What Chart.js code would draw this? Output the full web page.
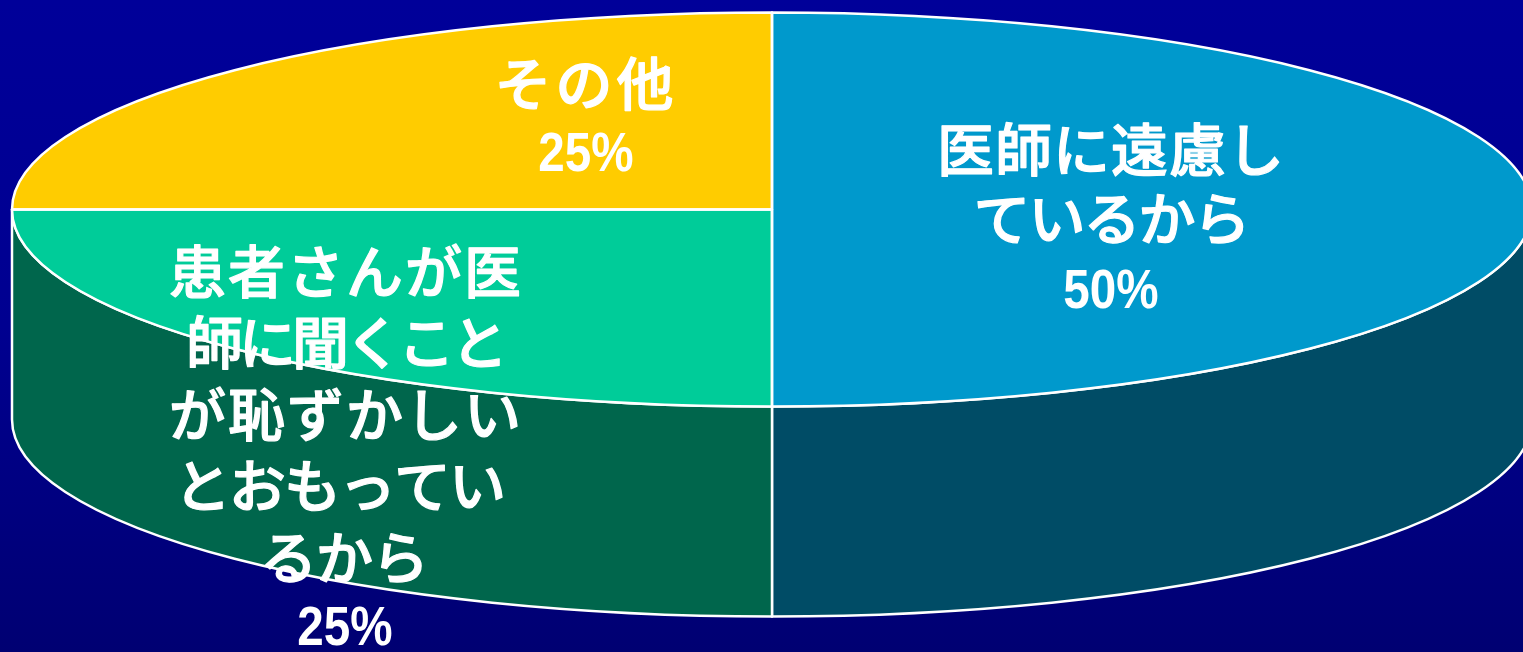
<!DOCTYPE html>
<html lang="ja">
<head>
<meta charset="utf-8">
<style>html,body{margin:0;padding:0;background:#000090;overflow:hidden}canvas{display:block}</style>
<script src="https://cdn.jsdelivr.net/npm/chart.js@4"></script>
</head>
<body>
<canvas id="c" width="1523" height="652"></canvas>
<script>
const categories = ['医師に遠慮しているから', '患者さんが医師に聞くことが恥ずかしいとおもっているから', 'その他'];
const categoryLines = [
  ['医師に遠慮し', 'ているから'],
  ['患者さんが医', '師に聞くこと', 'が恥ずかしい', 'とおもってい', 'るから'],
  ['その他']
];
const values = [50, 25, 25];
const topColors = ['#0099CC', '#00CC99', '#FFCC00'];
const sideColors = ['#004C66', '#00664C', '#806600'];

const CX = 772, CY = 209.5, RX = 760, RY = 197, DEPTH = 210;
const labelAnchors = [
  {x: 1111, y: 149, step: 69, pctGap: 74, spacing: [1, -2], nudge: [0, 0]},
  {x: 345, y: 271, step: 71.5, pctGap: 72, spacing: [2, -4, 2, -2, -1], nudge: [1, 0, 1, -6, -1]},
  {x: 586, y: 83, step: 70, pctGap: 72, spacing: [4], nudge: [0]}
];

function applyTransform(ctx, chart) {
  const a = chart.getDatasetMeta(0).data[0];
  ctx.translate(CX, CY);
  ctx.scale(RX / a.outerRadius, RY / a.outerRadius);
  ctx.translate(-a.x, -a.y);
}

const pie3d = {
  id: 'pie3d',
  beforeDraw(chart) {
    const {ctx, width, height} = chart;
    const g = ctx.createLinearGradient(0, 0, 0, height);
    g.addColorStop(0, '#000099');
    g.addColorStop(0.5, '#000090');
    g.addColorStop(1, '#000072');
    ctx.fillStyle = g;
    ctx.fillRect(0, 0, width, height);
  },
  beforeDatasetsDraw(chart) {
    const {ctx} = chart;
    const arcs = chart.getDatasetMeta(0).data;
    const sy = RY / arcs[0].outerRadius;
    arcs.forEach((a, i) => {
      const s = Math.max(a.startAngle, 0), e = Math.min(a.endAngle, Math.PI);
      if (e <= s) return;
      ctx.save();
      applyTransform(ctx, chart);
      ctx.beginPath();
      ctx.arc(a.x, a.y + DEPTH / sy, a.outerRadius, s, e, false);
      ctx.arc(a.x, a.y, a.outerRadius, e, s, true);
      ctx.closePath();
      ctx.restore();
      ctx.fillStyle = sideColors[i];
      ctx.fill();
      ctx.strokeStyle = '#fff';
      ctx.lineWidth = 2.5;
      ctx.lineJoin = 'round';
      ctx.stroke();
    });
    ctx.save();
    applyTransform(ctx, chart);
  },
  afterDatasetsDraw(chart) {
    const {ctx} = chart;
    ctx.restore();
    const arcs = chart.getDatasetMeta(0).data;
    arcs.forEach(a => {
      ctx.save();
      applyTransform(ctx, chart);
      ctx.beginPath();
      ctx.moveTo(a.x, a.y);
      ctx.arc(a.x, a.y, a.outerRadius, a.startAngle, a.endAngle);
      ctx.closePath();
      ctx.restore();
      ctx.strokeStyle = '#fff';
      ctx.lineWidth = 2.5;
      ctx.lineJoin = 'round';
      ctx.stroke();
    });
    ctx.fillStyle = '#fff';
    ctx.strokeStyle = '#fff';
    ctx.textAlign = 'center';
    ctx.textBaseline = 'middle';
    categoryLines.forEach((lines, i) => {
      const p = labelAnchors[i];
      ctx.font = '500 57px "Noto Sans CJK JP", sans-serif';
      ctx.lineWidth = 1.2;
      lines.forEach((t, k) => {
        ctx.letterSpacing = p.spacing[k] + 'px';
        ctx.fillText(t, p.x + p.nudge[k], p.y + k * p.step);
        ctx.strokeText(t, p.x + p.nudge[k], p.y + k * p.step);
      });
      ctx.letterSpacing = '0px';
      ctx.font = 'bold 56px "Liberation Sans", sans-serif';
      ctx.save();
      ctx.translate(p.x, p.y + 1 + (lines.length - 1) * p.step + p.pctGap);
      ctx.scale(0.85, 1);
      ctx.fillText(values[i] + '%', 0, 0);
      ctx.restore();
    });
  }
};

new Chart(document.getElementById('c'), {
  type: 'pie',
  data: {
    labels: categories,
    datasets: [{data: values, backgroundColor: topColors, borderWidth: 0, clip: false}]
  },
  options: {
    responsive: false,
    animation: false,
    rotation: 0,
    layout: {padding: 0},
    plugins: {legend: {display: false}, tooltip: {enabled: false}}
  },
  plugins: [pie3d]
});
</script>
</body>
</html>
